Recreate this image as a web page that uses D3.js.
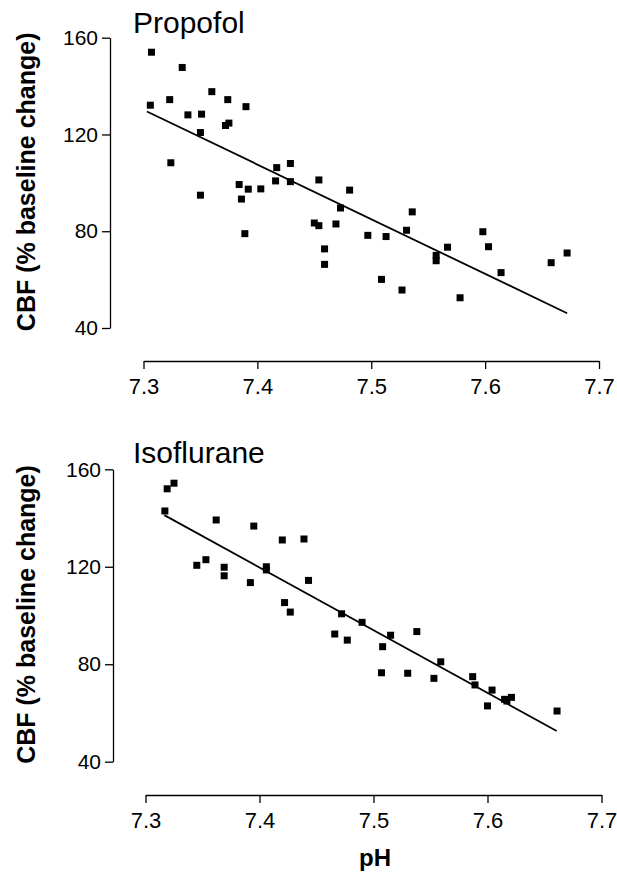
<!DOCTYPE html>
<html>
<head>
<meta charset="utf-8">
<script src="https://cdn.jsdelivr.net/npm/d3@7"></script>
<style>
  body { margin: 0; background: #fff; }
  svg text { font-family: "Liberation Sans", Arial, Helvetica, sans-serif; fill: #000; }
  .axis path, .axis line { stroke: #000; stroke-width: 1.3px; }
  .axis text { font-size: 21px; }
</style>
</head>
<body>
<div id="chart"></div>
<script>
// Datos
let phTicks = [7.3, 7.4, 7.5, 7.6, 7.7];
let cbfTicks = [40, 80, 120, 160];

let propofolPH = [7.307, 7.334, 7.323, 7.306, 7.360, 7.374, 7.390, 7.339, 7.351, 7.372, 7.375,
    7.350, 7.324, 7.417, 7.429, 7.416, 7.429, 7.454, 7.384, 7.392, 7.403, 7.481, 7.350, 7.386,
    7.389, 7.473, 7.450, 7.454, 7.469, 7.459, 7.459, 7.497, 7.513, 7.536, 7.531, 7.567, 7.557,
    7.557, 7.509, 7.527, 7.578, 7.598, 7.603, 7.614, 7.658, 7.672];
let propofolCBF = [154.0, 147.7, 134.4, 132.1, 137.7, 134.4, 131.5, 128.1, 128.4, 123.7, 124.7,
    120.8, 108.3, 106.3, 108.0, 100.8, 100.5, 101.2, 99.3, 97.4, 97.5, 97.0, 94.9, 93.3,
    79.0, 89.6, 83.4, 82.3, 83.0, 72.7, 66.3, 78.3, 77.8, 88.0, 80.4, 73.4, 70.0,
    67.8, 60.1, 55.7, 52.5, 79.8, 73.6, 62.9, 67.0, 71.0];
let propofolFitPH = [7.303, 7.672];
let propofolFitCBF = [129.5, 46.1];

let isofluranePH = [7.317, 7.319, 7.325, 7.362, 7.395, 7.420, 7.439, 7.345, 7.353, 7.369, 7.369,
    7.406, 7.406, 7.392, 7.443, 7.422, 7.427, 7.472, 7.466, 7.477, 7.490, 7.515, 7.538, 7.508,
    7.559, 7.507, 7.530, 7.553, 7.587, 7.589, 7.604, 7.600, 7.615, 7.617, 7.621, 7.661];
let isofluraneCBF = [142.9, 152.0, 154.3, 139.2, 136.7, 131.0, 131.4, 120.6, 122.9, 119.8, 116.3,
    120.0, 118.7, 113.5, 114.4, 105.3, 101.4, 100.7, 92.4, 89.9, 97.2, 91.9, 93.4, 87.2,
    81.0, 76.5, 76.3, 74.2, 74.9, 71.5, 69.4, 62.9, 65.6, 64.9, 66.4, 60.8];
let isofluraneFitPH = [7.3165, 7.6607];
let isofluraneFitCBF = [141.2, 52.6];

let width = 617, height = 873;

let svg = d3.select('#chart')
    .append('svg')
    .attr('width', width)
    .attr('height', height);

// Panel superior e inferior
drawPanel({
    title: 'Propofol', ph: propofolPH, cbf: propofolCBF, fitPH: propofolFitPH, fitCBF: propofolFitCBF,
    x0: 143.5, x1: 599, yTop: 37.7, yBottom: 328, yAxisX: 110, xAxisY: 361, titleY: 33
});
drawPanel({
    title: 'Isoflurane', ph: isofluranePH, cbf: isofluraneCBF, fitPH: isofluraneFitPH, fitCBF: isofluraneFitCBF,
    x0: 145.5, x1: 601.5, yTop: 469.3, yBottom: 761.7, yAxisX: 113, xAxisY: 795, titleY: 463
});

function drawPanel(p) {
    let x = d3.scaleLinear().domain([7.3, 7.7]).range([p.x0, p.x1]);
    let y = d3.scaleLinear().domain([40, 160]).range([p.yBottom, p.yTop]);

    //Eje Y
    svg.append('g')
        .attr('class', 'axis')
        .attr('transform', 'translate(' + p.yAxisX + ',0)')
        .call(d3.axisLeft(y).tickValues(cbfTicks).tickSizeInner(8).tickSizeOuter(0).tickPadding(4));

    //Eje X
    let xAxis = svg.append('g')
        .attr('class', 'axis')
        .attr('transform', 'translate(0,' + p.xAxisY + ')')
        .call(d3.axisBottom(x).tickValues(phTicks).tickFormat(d3.format('.1f')).tickSizeInner(8).tickSizeOuter(0).tickPadding(9));
    xAxis.selectAll('text').style('font-size', '22px');

    //Titulo del panel
    svg.append('text')
        .attr('x', 133)
        .attr('y', p.titleY)
        .style('font-size', '30px')
        .text(p.title);

    //Etiqueta eje Y
    svg.append('text')
        .attr('transform', 'translate(35,' + ((p.yTop + p.yBottom) / 2 - 1) + ') rotate(-90)')
        .attr('text-anchor', 'middle')
        .style('font-size', '25px')
        .style('font-weight', 'bold')
        .text('CBF (% baseline change)');

    //Recta de regresion
    let fit = p.fitPH.map(function(d, i) { return [d, p.fitCBF[i]]; });
    svg.append('path')
        .datum(fit)
        .attr('fill', 'none')
        .attr('stroke', '#000')
        .attr('stroke-width', 1.8)
        .attr('d', d3.line().x(function(d) { return x(d[0]); }).y(function(d) { return y(d[1]); }));

    //Puntos
    let s = 7;
    svg.append('g')
        .selectAll('rect')
        .data(p.ph.map(function(d, i) { return [d, p.cbf[i]]; }))
        .enter()
        .append('rect')
        .attr('x', function(d) { return x(d[0]) - s / 2; })
        .attr('y', function(d) { return y(d[1]) - s / 2; })
        .attr('width', s)
        .attr('height', s)
        .attr('fill', '#000');
}

//Etiqueta eje X comun
svg.append('text')
    .attr('x', 375)
    .attr('y', 866)
    .attr('text-anchor', 'middle')
    .style('font-size', '24px')
    .style('font-weight', 'bold')
    .text('pH');
</script>
</body>
</html>
